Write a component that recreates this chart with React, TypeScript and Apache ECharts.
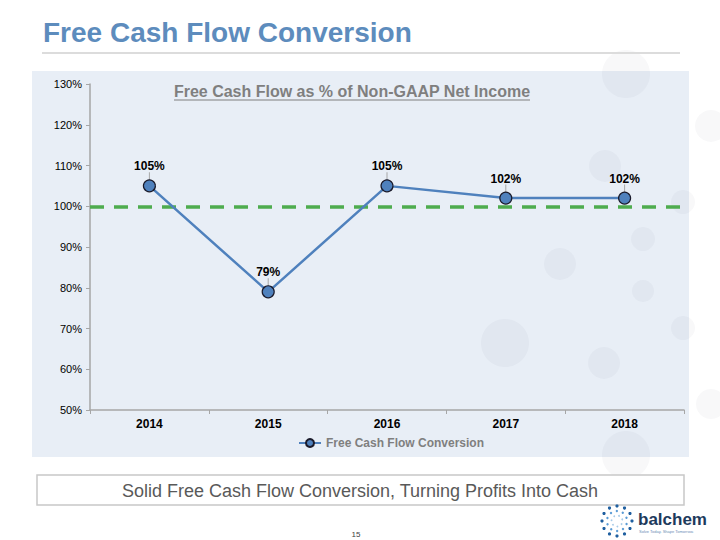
import React, { useEffect, useRef } from "react";
import * as echarts from "echarts";

const categories = ["2014", "2015", "2016", "2017", "2018"];
const conversion = [1.05, 0.79, 1.05, 1.02, 1.02];
const targetLevel = 1.0;
const seriesName = "Free Cash Flow Conversion";
const pageTitle = "Free Cash Flow Conversion";
const chartTitle = "Free Cash Flow as % of Non-GAAP Net Income";
const footerText = "Solid Free Cash Flow Conversion, Turning Profits Into Cash";

const FONT = "'Liberation Sans', Arial, Helvetica, sans-serif";

const bgCircles: [number, number, number][] = [
  [626, 74, 24],
  [711, 126, 16],
  [605, 166, 16],
  [683, 202, 12],
  [560, 264, 16],
  [643, 239, 12],
  [643, 291, 11],
  [683, 328, 12],
  [505, 343, 24],
  [604, 363, 16],
  [711, 404, 15],
  [626, 455, 24],
];

function logoDots(cx: number, cy: number) {
  const out: any[] = [];
  const rings: [number, number, number, string][] = [
    [15, 12, 1.6, "#1f5fa0"],
    [10, 10, 1.2, "#5a9bd5"],
    [5.5, 7, 0.9, "#a8cbe8"],
  ];
  rings.forEach(([r, n, s, c], ri) => {
    for (let i = 0; i < n; i++) {
      const a = (i / n) * Math.PI * 2 + ri * 0.3;
      out.push({
        type: "circle",
        shape: { cx: cx + r * Math.cos(a), cy: cy + r * Math.sin(a), r: s },
        style: { fill: c },
        silent: true,
      });
    }
  });
  return out;
}

export default function App() {
  const ref = useRef<HTMLDivElement>(null);
  useEffect(() => {
    if (!ref.current) return;
    document.body.style.margin = "0";
    const chart = echarts.init(ref.current, undefined, { renderer: "svg" });
    const graphics: any[] = [
      {
        type: "rect",
        shape: { x: 32, y: 71, width: 657, height: 386 },
        style: { fill: "#e8eef6" },
        z: -20,
        silent: true,
      },
      ...bgCircles.map(([cx, cy, r]) => ({
        type: "circle",
        shape: { cx, cy, r },
        style: { fill: "rgba(40,40,60,0.03)" },
        z: -10,
        silent: true,
      })),
      {
        type: "text",
        x: 43,
        y: 18,
        style: {
          text: pageTitle,
          font: `bold 28px ${FONT}`,
          fill: "#5d8cbd",
        },
      },
      {
        type: "line",
        shape: { x1: 42, y1: 53, x2: 680, y2: 53 },
        style: { stroke: "#dcdcdc", lineWidth: 2 },
      },
      {
        type: "text",
        x: 352,
        y: 91,
        style: {
          text: chartTitle,
          font: `bold 16px ${FONT}`,
          fill: "#7f7f7f",
          textAlign: "center",
          textVerticalAlign: "middle",
        },
      },
      {
        type: "line",
        shape: { x1: 174, y1: 100, x2: 530, y2: 100 },
        style: { stroke: "#7f7f7f", lineWidth: 1.2 },
      },
      {
        type: "rect",
        shape: { x: 37, y: 475, width: 647, height: 30 },
        style: { fill: "#ffffff", stroke: "#c8c8c8", lineWidth: 1.5 },
        z: -5,
      },
      {
        type: "text",
        x: 360,
        y: 491,
        style: {
          text: footerText,
          font: `18px ${FONT}`,
          fill: "#595959",
          textAlign: "center",
          textVerticalAlign: "middle",
        },
      },
      {
        type: "text",
        x: 356,
        y: 534,
        style: {
          text: "15",
          font: `8px ${FONT}`,
          fill: "#404040",
          textAlign: "center",
          textVerticalAlign: "middle",
        },
      },
      ...logoDots(617, 521),
      {
        type: "text",
        x: 638,
        y: 519,
        style: {
          text: "balchem",
          font: `bold 17px ${FONT}`,
          fill: "#1d3a5c",
          textVerticalAlign: "middle",
        },
      },
      {
        type: "text",
        x: 639,
        y: 531,
        style: {
          text: "Solve Today. Shape Tomorrow.",
          font: `4px ${FONT}`,
          fill: "#6a8db5",
          textVerticalAlign: "middle",
        },
      },
    ];

    chart.setOption({
      animation: false,
      backgroundColor: "#ffffff",
      graphic: { elements: graphics },
      grid: { left: 90, right: 36, top: 84, bottom: 130, containLabel: false },
      legend: {
        data: [seriesName],
        bottom: 86,
        left: 293,
        itemWidth: 22,
        itemHeight: 10,
        itemGap: 4,
        textStyle: {
          fontFamily: FONT,
          fontWeight: "bold",
          fontSize: 12,
          color: "#7f7f7f",
        },
      },
      xAxis: {
        type: "category",
        data: categories,
        boundaryGap: true,
        axisLine: { lineStyle: { color: "#a6a6a6", width: 1.5 } },
        axisTick: { show: true, length: 4, lineStyle: { color: "#a6a6a6" } },
        axisLabel: {
          fontFamily: FONT,
          fontWeight: "bold",
          fontSize: 12,
          color: "#000000",
          margin: 8,
        },
      },
      yAxis: {
        type: "value",
        min: 0.5,
        max: 1.3,
        interval: 0.1,
        axisLine: { show: true, lineStyle: { color: "#a6a6a6", width: 1.5 } },
        axisTick: { show: true, length: 4, lineStyle: { color: "#a6a6a6" } },
        splitLine: { show: false },
        axisLabel: {
          fontFamily: FONT,
          fontSize: 11,
          color: "#000000",
          margin: 8,
          formatter: (v: number) => `${Math.round(v * 100)}%`,
        },
      },
      series: [
        {
          name: seriesName,
          type: "line",
          data: conversion,
          z: 5,
          symbol: "circle",
          symbolSize: 12,
          lineStyle: { color: "#4f81bd", width: 2.5 },
          itemStyle: { color: "#4f81bd", borderColor: "#1a1a2a", borderWidth: 1.2 },
          label: {
            show: true,
            position: "top",
            distance: 4,
            fontFamily: FONT,
            fontWeight: "bold",
            fontSize: 12,
            color: "#000000",
            formatter: (p: any) => `${Math.round(p.value * 100)}%`,
          },
          labelLayout: { dy: -3 },
          labelLine: { show: true, lineStyle: { color: "#a6a6a6", width: 1 } },
          markLine: {
            silent: true,
            symbol: "none",
            label: { show: false },
            lineStyle: { color: "#4eac4e", width: 3.5, type: [14, 10] },
            data: [{ yAxis: targetLevel }],
          },
        },
      ],
    });
    return () => chart.dispose();
  }, []);
  return <div ref={ref} style={{ width: 720, height: 540 }} />;
}
